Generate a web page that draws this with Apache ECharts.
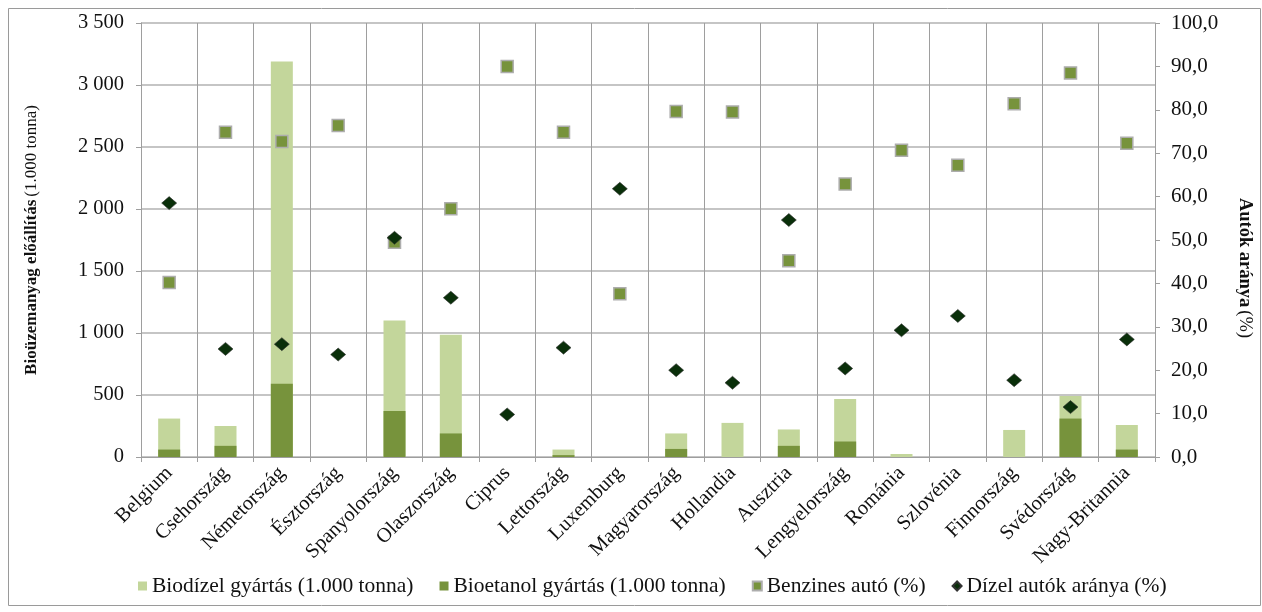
<!DOCTYPE html>
<html>
<head>
<meta charset="utf-8">
<script src="https://cdn.jsdelivr.net/npm/echarts@6/dist/echarts.min.js"></script>
<style>
  html, body { margin: 0; padding: 0; background: #fff; }
  #chart { width: 1262px; height: 612px; }
</style>
</head>
<body>
<div id="chart"></div>
<script>
// EU member states
const countries = ['Belgium', 'Csehország', 'Németország', 'Észtország', 'Spanyolország', 'Olaszország',
  'Ciprus', 'Lettország', 'Luxemburg', 'Magyarország', 'Hollandia', 'Ausztria',
  'Lengyelország', 'Románia', 'Szlovénia', 'Finnország', 'Svédország', 'Nagy-Britannia'];

// Biofuel production, 1,000 tonnes
const biodiesel = [310, 250, 3190, 0, 1100, 985, 0, 60, 0, 190, 275, 222, 468, 24, 0, 218, 492, 258];
const bioethanol = [60, 90, 590, 0, 370, 190, 0, 15, 0, 65, 0, 90, 125, 0, 0, 0, 310, 60];

// Share of petrol and diesel cars, %
const petrolShare = [40.2, 74.8, 72.7, 76.4, 49.5, 57.2, 90.0, 74.8, 37.6, 79.6, 79.5, 45.2,
  62.9, 70.7, 67.2, 81.4, 88.5, 72.3];
const dieselShare = [58.5, 24.9, 26.0, 23.6, 50.5, 36.7, 9.8, 25.2, 61.8, 20.0, 17.1, 54.6,
  20.4, 29.2, 32.5, 17.7, 11.5, 27.1];

// Axis ranges
const leftMax = 3500, leftStep = 500;
const rightMax = 100, rightStep = 10;

const FONT = '"Liberation Serif", "Times New Roman", serif';
const GRID_COLOR = '#9e9e9e';
const HGRID_COLOR = '#b2b2b2';
const TEXT_COLOR = '#111';

const chart = echarts.init(document.getElementById('chart'), null, { renderer: 'canvas' });

chart.setOption({
  animation: false,
  backgroundColor: '#fff',
  textStyle: { fontFamily: FONT, color: TEXT_COLOR },
  graphic: [{
    type: 'rect',
    shape: { x: 8.5, y: 8.5, width: 1252, height: 597 },
    style: { fill: 'none', stroke: '#9a9a9a', lineWidth: 1 },
    silent: true
  }],
  grid: { left: 141, right: 107, top: 23, bottom: 155, containLabel: false },
  legend: {
    left: 133,
    top: 570,
    itemWidth: 9,
    itemHeight: 9,
    itemGap: 26,
    textStyle: { fontFamily: FONT, fontSize: 21.5, color: TEXT_COLOR },
    data: [
      { name: 'Biodízel gyártás (1.000 tonna)', icon: 'rect' },
      { name: 'Bioetanol gyártás (1.000 tonna)', icon: 'rect' },
      { name: 'Benzines autó (%)', icon: 'rect' },
      { name: 'Dízel autók aránya (%)', icon: 'diamond' }
    ]
  },
  xAxis: {
    type: 'category',
    data: countries,
    boundaryGap: true,
    axisLine: { show: true, lineStyle: { color: GRID_COLOR, width: 1 } },
    axisTick: { show: true, length: 5, lineStyle: { color: GRID_COLOR } },
    splitLine: { show: true, lineStyle: { color: GRID_COLOR, width: 1 } },
    axisLabel: {
      rotate: 45,
      margin: 13,
      interval: 0,
      fontFamily: FONT,
      fontSize: 20.5,
      color: TEXT_COLOR
    }
  },
  yAxis: [{
    type: 'value',
    min: 0,
    max: leftMax,
    interval: leftStep,
    position: 'left',
    name: '{b|Bioüzemanyag előállítás} {n|(1.000 tonna)}',
    nameLocation: 'middle',
    nameGap: 101,
    nameRotate: 90,
    nameTextStyle: {
      rich: {
        b: { fontFamily: FONT, fontSize: 17, fontWeight: 'bold', color: TEXT_COLOR },
        n: { fontFamily: FONT, fontSize: 17, color: TEXT_COLOR }
      }
    },
    axisLine: { show: true, lineStyle: { color: GRID_COLOR, width: 1 } },
    axisTick: { show: true, length: 5, inside: false, lineStyle: { color: GRID_COLOR } },
    splitLine: { show: true, lineStyle: { color: HGRID_COLOR, width: 1.5 } },
    axisLabel: {
      margin: 17,
      fontFamily: FONT,
      fontSize: 20.5,
      color: TEXT_COLOR,
      formatter: v => String(v).replace(/\B(?=(\d{3})+(?!\d))/g, ' ')
    }
  }, {
    type: 'value',
    min: 0,
    max: rightMax,
    interval: rightStep,
    position: 'right',
    name: '{b|Autók aránya} {n|(%)}',
    nameLocation: 'middle',
    nameGap: 80,
    nameRotate: -90,
    nameTextStyle: {
      padding: [0, 0, 0, 56],
      rich: {
        b: { fontFamily: FONT, fontSize: 18.5, fontWeight: 'bold', color: TEXT_COLOR },
        n: { fontFamily: FONT, fontSize: 18.5, color: TEXT_COLOR }
      }
    },
    axisLine: { show: true, lineStyle: { color: GRID_COLOR, width: 1 } },
    axisTick: { show: true, length: 5, inside: false, lineStyle: { color: GRID_COLOR } },
    splitLine: { show: false },
    axisLabel: {
      margin: 16,
      fontFamily: FONT,
      fontSize: 21,
      color: TEXT_COLOR,
      formatter: v => v.toFixed(1).replace('.', ',')
    }
  }],
  series: [{
    name: 'Biodízel gyártás (1.000 tonna)',
    type: 'bar',
    yAxisIndex: 0,
    data: biodiesel,
    barWidth: 22,
    barGap: '-100%',
    itemStyle: { color: '#c3d69b' },
    z: 2
  }, {
    name: 'Bioetanol gyártás (1.000 tonna)',
    type: 'bar',
    yAxisIndex: 0,
    data: bioethanol,
    barWidth: 22,
    barGap: '-100%',
    itemStyle: { color: '#77933c' },
    z: 3
  }, {
    name: 'Benzines autó (%)',
    type: 'scatter',
    yAxisIndex: 1,
    data: petrolShare,
    symbol: 'rect',
    symbolSize: 12,
    itemStyle: { color: '#77933c', borderColor: '#adadad', borderWidth: 1.5, opacity: 1 },
    z: 4
  }, {
    name: 'Dízel autók aránya (%)',
    type: 'scatter',
    yAxisIndex: 1,
    data: dieselShare,
    symbol: 'diamond',
    symbolSize: [15, 13],
    itemStyle: { color: '#0a2f0a', borderColor: '#333', borderWidth: 0.6, opacity: 1 },
    z: 5
  }]
});
</script>
</body>
</html>
